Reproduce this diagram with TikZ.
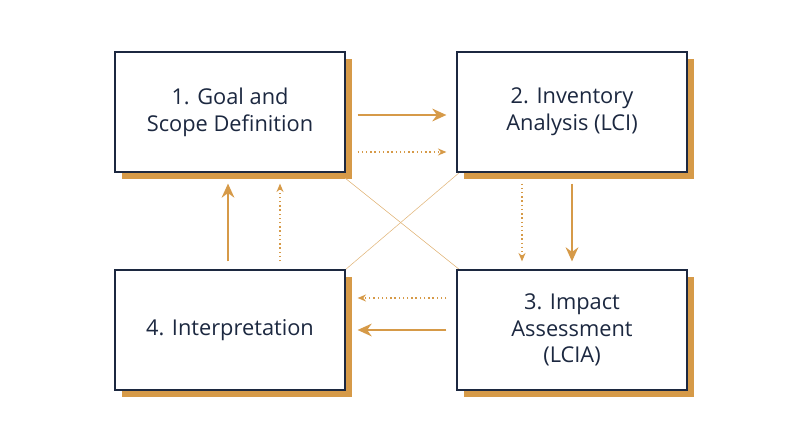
\documentclass[tikz,border=0pt]{standalone}
\usepackage{fontspec}
\setmainfont{Open Sans}
\usetikzlibrary{arrows.meta, positioning}
\definecolor{navy}{RGB}{28, 40, 64}
\definecolor{ochre}{RGB}{214, 154, 72}

\begin{document}
\begin{tikzpicture}[x=0.025cm, y=-0.025cm,
    stage/.style={rectangle, draw=navy, thick, fill=white, minimum width=5.75cm,
                  minimum height=3cm, align=center, font=\fontsize{15.5}{19}\selectfont,
                  text=navy},
    shade/.style={rectangle, fill=ochre, minimum width=5.75cm, minimum height=3cm},
    flow/.style={-{Stealth[length=10pt, width=9pt]}, ochre, line width=1.8pt},
    hint/.style={-{Stealth[length=6pt, width=5pt]}, ochre, dotted, line width=1pt}]
    \useasboundingbox (0,0) rectangle (800,447);

    % Shadows
    \node[shade] at (237, 119) {};
    \node[shade] at (579, 119) {};
    \node[shade] at (579, 337) {};
    \node[shade] at (237, 337) {};

    % Cross lines
    \coordinate (c1) at (345, 178);
    \coordinate (c2) at (460, 270);
    \coordinate (c3) at (460, 172);
    \coordinate (c4) at (345, 270);
    \draw[ochre!70, thin] (c1) -- (c2);
    \draw[ochre!70, thin] (c3) -- (c4);

    % Stages
    \node[stage] (goal) at (230, 112) {1. Goal and\\Scope Definition};
    \node[stage] (inv) at (572, 112) {2. Inventory\\Analysis (LCI)};
    \node[stage] (imp) at (572, 330) {3. Impact\\Assessment\\(LCIA)};
    \node[stage] (intp) at (230, 330) {4. Interpretation};

    % Arrows
    \draw[flow] ([shift={(12,3)}]goal.east) -- ([shift={(-10,3)}]inv.west);
    \draw[hint] ([shift={(12,40)}]goal.east) -- ([shift={(-10,40)}]inv.west);
    \draw[flow] ([shift={(0,11)}]inv.south) -- ([shift={(0,-8)}]imp.north);
    \draw[hint] ([shift={(-50,11)}]inv.south) -- ([shift={(-50,-8)}]imp.north);
    \draw[flow] ([shift={(-10,0)}]imp.west) -- ([shift={(12,0)}]intp.east);
    \draw[hint] ([shift={(-10,-32)}]imp.west) -- ([shift={(12,-32)}]intp.east);
    \draw[flow] ([shift={(-2,-8)}]intp.north) -- ([shift={(-2,11)}]goal.south);
    \draw[hint] ([shift={(50,-8)}]intp.north) -- ([shift={(50,11)}]goal.south);
\end{tikzpicture}
\end{document}
